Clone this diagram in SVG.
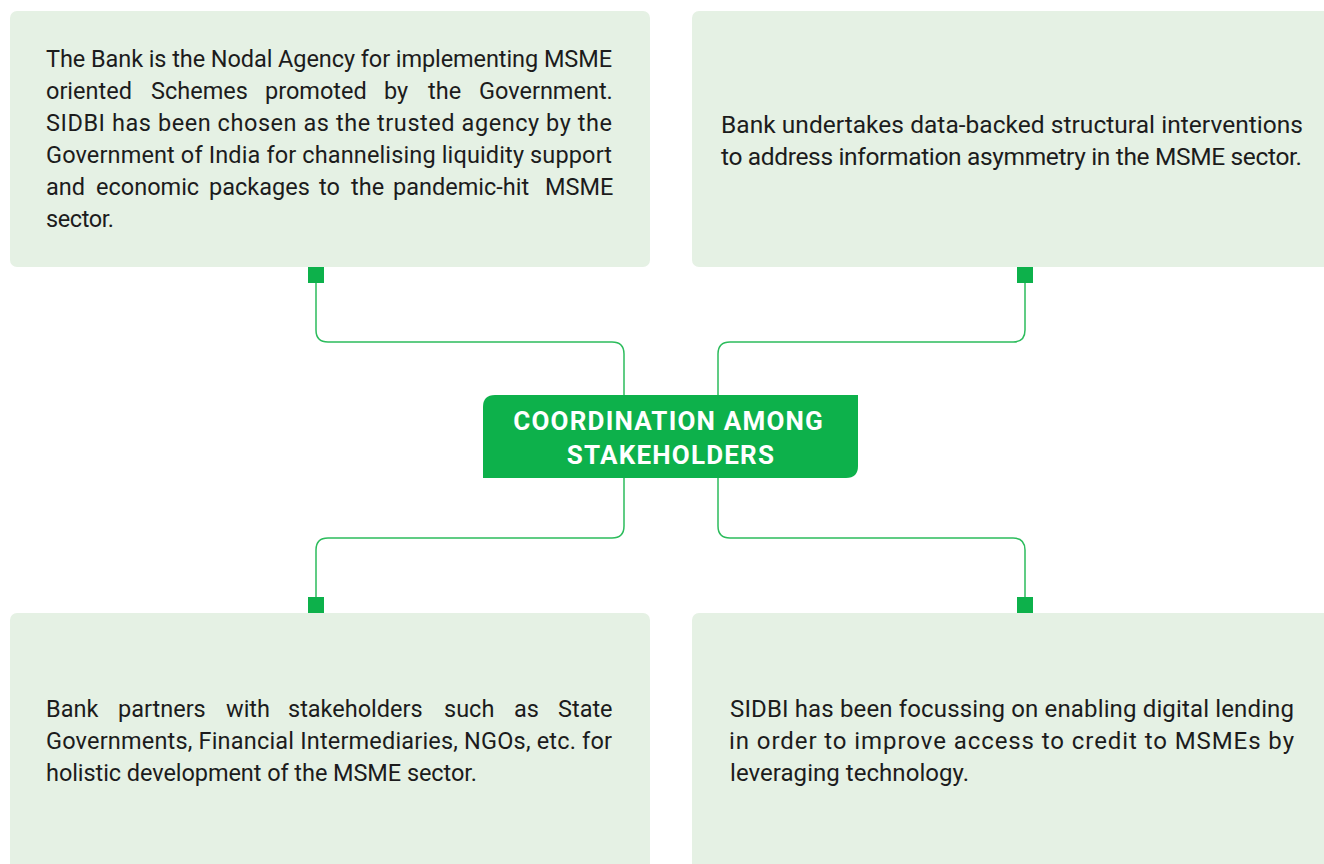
<svg xmlns="http://www.w3.org/2000/svg" width="1324" height="864" viewBox="0 0 1324 864">
<style>
.box{fill:#e5f1e4}
.txt{font-family:Roboto,"Liberation Sans",sans-serif;font-size:23.5px;fill:#1c1c1c}
.big{font-size:24.5px}
.mid{font-size:24px}
.conn{fill:none;stroke:#2cbc5c;stroke-width:1.5}
.sq{fill:#0db14b}
.ctr{font-family:Roboto,"Liberation Sans",sans-serif;font-size:26px;font-weight:bold;fill:#ffffff;letter-spacing:1.2px}
</style>
<rect width="1324" height="864" fill="#ffffff"/>
<g id="connectors">
<path class="conn" d="M316,283 V330 Q316,342 328,342 H612 Q624,342 624,354 V396"/>
<path class="conn" d="M718,396 V354 Q718,342 730,342 H1013 Q1025,342 1025,330 V283"/>
<path class="conn" d="M624,478 V526 Q624,538 612,538 H328 Q316,538 316,550 V597"/>
<path class="conn" d="M718,478 V526 Q718,538 730,538 H1013 Q1025,538 1025,550 V597"/>
<rect class="sq" x="308" y="267" width="16" height="16"/>
<rect class="sq" x="1017" y="267" width="16" height="16"/>
<rect class="sq" x="308" y="597" width="16" height="16"/>
<rect class="sq" x="1017" y="597" width="16" height="16"/>
</g>
<g id="node-top-left">
<rect class="box" x="10" y="11" width="640" height="256" rx="7"/>
<text class="txt">
<tspan x="46" y="67" textLength="566" lengthAdjust="spacing">The Bank is the Nodal Agency for implementing MSME</tspan>
<tspan y="99" x="46">oriented</tspan><tspan y="99" x="151">Schemes</tspan><tspan y="99" x="265">promoted</tspan><tspan y="99" x="384">by</tspan><tspan y="99" x="428">the</tspan><tspan y="99" x="479">Government.</tspan>
<tspan x="46" y="131" textLength="566" lengthAdjust="spacing">SIDBI has been chosen as the trusted agency by the</tspan>
<tspan x="46" y="163" textLength="566" lengthAdjust="spacing">Government of India for channelising liquidity support</tspan>
<tspan y="195" x="46">and</tspan><tspan y="195" x="96">economic</tspan><tspan y="195" x="209">packages</tspan><tspan y="195" x="319">to</tspan><tspan y="195" x="351">the</tspan><tspan y="195" x="393">pandemic-hit</tspan><tspan y="195" x="545">MSME</tspan>
<tspan x="46" y="227" textLength="68" lengthAdjust="spacing">sector.</tspan>
</text>
</g>
<g id="node-top-right">
<rect class="box" x="692" y="11" width="700" height="256" rx="7"/>
<text class="txt big">
<tspan x="721" y="133" textLength="582" lengthAdjust="spacing">Bank undertakes data-backed structural interventions</tspan>
<tspan x="721" y="165" textLength="581" lengthAdjust="spacing">to address information asymmetry in the MSME sector.</tspan>
</text>
</g>
<g id="node-center">
<path d="M495,395 H858 V466 Q858,478 846,478 H483 V407 Q483,395 495,395 Z" fill="#0db14b"/>
<text class="ctr" text-anchor="middle">
<tspan x="672.5" y="430">COORDINATION AMONG</tspan>
<tspan x="671" y="464">STAKEHOLDERS</tspan>
</text>
</g>
<g id="node-bottom-left">
<rect class="box" x="10" y="613" width="640" height="270" rx="7"/>
<text class="txt">
<tspan y="717" x="46">Bank</tspan><tspan y="717" x="118">partners</tspan><tspan y="717" x="226">with</tspan><tspan y="717" x="288">stakeholders</tspan><tspan y="717" x="444">such</tspan><tspan y="717" x="514">as</tspan><tspan y="717" x="558">State</tspan>
<tspan x="46" y="749" textLength="566" lengthAdjust="spacing">Governments, Financial Intermediaries, NGOs, etc. for</tspan>
<tspan x="46" y="781" textLength="431" lengthAdjust="spacing">holistic development of the MSME sector.</tspan>
</text>
</g>
<g id="node-bottom-right">
<rect class="box" x="692" y="613" width="700" height="270" rx="7"/>
<text class="txt mid">
<tspan x="730" y="717" textLength="564" lengthAdjust="spacing">SIDBI has been focussing on enabling digital lending</tspan>
<tspan x="729" y="749" textLength="565" lengthAdjust="spacing">in order to improve access to credit to MSMEs by</tspan>
<tspan x="730" y="781" textLength="239" lengthAdjust="spacing">leveraging technology.</tspan>
</text>
</g>
</svg>
